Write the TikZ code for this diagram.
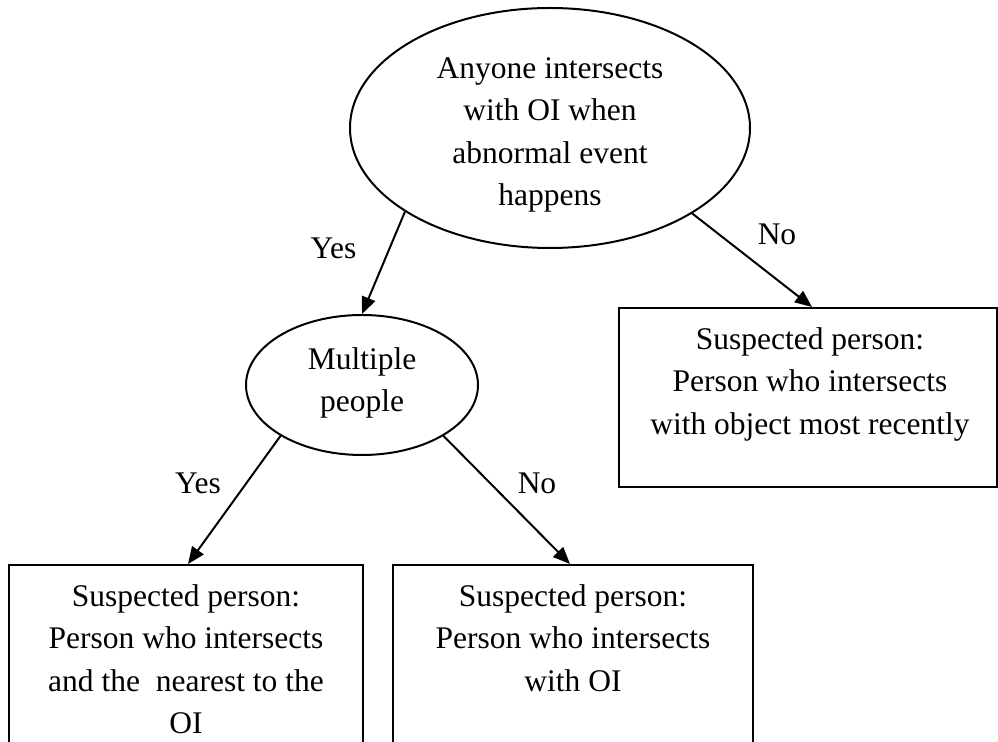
\documentclass[tikz,border=0pt]{standalone}
\usepackage{fontspec}
\setmainfont{Liberation Serif}
\usetikzlibrary{arrows.meta,shapes.geometric}
\begin{document}
\begin{tikzpicture}[x=0.5pt,y=-0.5pt,
  line width=1pt,
  every node/.style={font=\fontsize{15.75pt}{21.25pt}\selectfont},
  decision/.style={draw, ellipse, inner sep=0pt},
  outcome/.style={draw, rectangle, inner sep=0pt},
  caption/.style={align=center, inner sep=0pt, anchor=north},
  answer/.style={inner sep=0pt, anchor=base},
  flow/.style={-{Triangle[length=8.5pt,width=7pt]}}
]
\useasboundingbox (0,0) rectangle (998,742);
\clip (0,0) rectangle (998,742);

% decisions
\node[decision, minimum width=200pt, minimum height=120pt] (q1) at (550,128) {};
\node[caption] (q1t) at (550,56.5) {Anyone intersects\\with OI when\\abnormal event\\happens};
\node[decision, minimum width=116pt, minimum height=70pt] (q2) at (362,385) {};
\node[caption] (q2t) at (362,346.5) {Multiple\\people};

% outcomes
\node[outcome, minimum width=189pt, minimum height=89.5pt] (r1) at (808,397.5) {};
\node[caption] (r1t) at (810,326.5) {Suspected person:\\Person who intersects\\with object most recently};
\node[outcome, minimum width=177pt, minimum height=167.5pt] (r2) at (186,732.5) {};
\node[caption] (r2t) at (186,583.5) {Suspected person:\\Person who intersects\\and the~ nearest to the\\OI};
\node[outcome, minimum width=180pt, minimum height=167.5pt] (r3) at (573,732.5) {};
\node[caption] (r3t) at (573,583.5) {Suspected person:\\Person who intersects\\with OI};

% branches
\draw[flow] (q1.210.9) -- (q2.north);
\draw[flow] (q1.329.1) -- ([xshift=2pt]r1.north);
\draw[flow] (q2.212) -- ([xshift=1pt]r2.north);
\draw[flow] (q2.328.5) -- ([xshift=-1.5pt]r3.north);

% branch labels
\node[answer] (y1) at (333.5,259) {Yes};
\node[answer] (n1) at (777,245) {No};
\node[answer] (y2) at (198,494) {Yes};
\node[answer] (n2) at (537,494) {No};
\end{tikzpicture}
\end{document}
